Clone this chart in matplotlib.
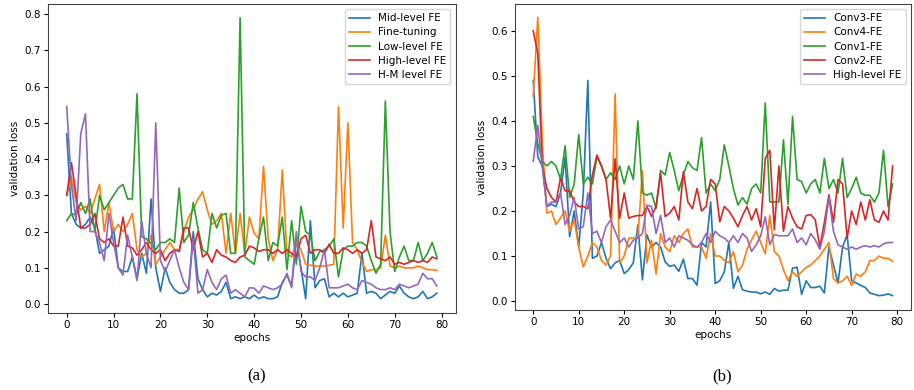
import matplotlib
matplotlib.use("Agg")
import matplotlib.pyplot as plt
import numpy as np

epochs = list(range(80))

# ---------- panel (a) ----------
a_labels = ["Mid-level FE", "Fine-tuning", "Low-level FE", "High-level FE", "H-M level FE"]
a_mid = [0.47, 0.25, 0.22, 0.21, 0.22, 0.24, 0.21, 0.14, 0.15, 0.16,
         0.21, 0.10, 0.09, 0.09, 0.13, 0.07, 0.14, 0.085, 0.29, 0.10,
         0.035, 0.10, 0.06, 0.04, 0.03, 0.03, 0.04, 0.20, 0.07, 0.04,
         0.02, 0.03, 0.025, 0.035, 0.06, 0.015, 0.02, 0.015, 0.02, 0.015,
         0.025, 0.015, 0.02, 0.015, 0.015, 0.02, 0.06, 0.08, 0.05, 0.18,
         0.10, 0.015, 0.23, 0.045, 0.065, 0.07, 0.02, 0.03, 0.02, 0.03,
         0.02, 0.025, 0.03, 0.14, 0.03, 0.035, 0.03, 0.015, 0.025, 0.035,
         0.03, 0.05, 0.03, 0.02, 0.015, 0.02, 0.035, 0.015, 0.02, 0.03]
a_fine = [0.30, 0.35, 0.28, 0.26, 0.27, 0.25, 0.29, 0.33, 0.20, 0.28,
          0.20, 0.22, 0.20, 0.22, 0.25, 0.15, 0.13, 0.14, 0.19, 0.11,
          0.13, 0.15, 0.17, 0.15, 0.15, 0.20, 0.24, 0.26, 0.29, 0.31,
          0.26, 0.22, 0.23, 0.25, 0.14, 0.25, 0.14, 0.25, 0.14, 0.24,
          0.195, 0.18, 0.38, 0.18, 0.12, 0.15, 0.37, 0.14, 0.13, 0.17,
          0.15, 0.11, 0.107, 0.105, 0.105, 0.105, 0.107, 0.11, 0.545, 0.21,
          0.50, 0.17, 0.15, 0.115, 0.09, 0.095, 0.095, 0.10, 0.19, 0.105,
          0.10, 0.105, 0.10, 0.10, 0.10, 0.105, 0.10, 0.095, 0.095, 0.093]
a_low = [0.23, 0.25, 0.245, 0.28, 0.25, 0.29, 0.20, 0.30, 0.26, 0.28,
         0.30, 0.32, 0.33, 0.29, 0.29, 0.58, 0.186, 0.18, 0.167, 0.15,
         0.17, 0.17, 0.18, 0.17, 0.32, 0.17, 0.19, 0.28, 0.21, 0.15,
         0.14, 0.25, 0.21, 0.245, 0.25, 0.14, 0.14, 0.79, 0.13, 0.12,
         0.11, 0.18, 0.24, 0.12, 0.17, 0.16, 0.24, 0.095, 0.23, 0.11,
         0.27, 0.20, 0.19, 0.12, 0.145, 0.15, 0.16, 0.18, 0.075, 0.15,
         0.16, 0.16, 0.17, 0.17, 0.16, 0.12, 0.085, 0.11, 0.56, 0.20,
         0.09, 0.13, 0.16, 0.12, 0.12, 0.17, 0.12, 0.14, 0.17, 0.13]
a_high = [0.30, 0.39, 0.30, 0.21, 0.21, 0.22, 0.25, 0.18, 0.17, 0.18,
          0.16, 0.16, 0.24, 0.16, 0.155, 0.135, 0.15, 0.17, 0.15, 0.14,
          0.15, 0.12, 0.14, 0.15, 0.145, 0.21, 0.21, 0.15, 0.20, 0.13,
          0.14, 0.115, 0.15, 0.135, 0.13, 0.12, 0.115, 0.13, 0.135, 0.16,
          0.155, 0.145, 0.15, 0.15, 0.14, 0.15, 0.14, 0.15, 0.14, 0.13,
          0.18, 0.19, 0.14, 0.15, 0.15, 0.14, 0.165, 0.14, 0.14, 0.155,
          0.15, 0.14, 0.15, 0.14, 0.15, 0.23, 0.13, 0.125, 0.12, 0.13,
          0.11, 0.115, 0.11, 0.115, 0.12, 0.115, 0.12, 0.115, 0.13, 0.125]
a_hm = [0.545, 0.33, 0.23, 0.47, 0.525, 0.20, 0.20, 0.17, 0.12, 0.25,
        0.17, 0.10, 0.08, 0.19, 0.13, 0.065, 0.23, 0.14, 0.10, 0.50,
        0.12, 0.09, 0.12, 0.15, 0.10, 0.06, 0.04, 0.18, 0.03, 0.04,
        0.095, 0.06, 0.04, 0.07, 0.08, 0.03, 0.04, 0.03, 0.02, 0.045,
        0.044, 0.03, 0.05, 0.045, 0.04, 0.045, 0.055, 0.085, 0.045, 0.20,
        0.09, 0.075, 0.075, 0.065, 0.10, 0.15, 0.045, 0.045, 0.045, 0.05,
        0.055, 0.045, 0.04, 0.065, 0.06, 0.055, 0.045, 0.04, 0.04, 0.045,
        0.04, 0.055, 0.05, 0.045, 0.05, 0.055, 0.085, 0.07, 0.07, 0.05]

# ---------- panel (b) ----------
b_labels = ["Conv3-FE", "Conv4-FE", "Conv1-FE", "Conv2-FE", "High-level FE"]
b_conv3 = [0.49, 0.32, 0.30, 0.21, 0.215, 0.21, 0.24, 0.32, 0.143, 0.20,
           0.12, 0.24, 0.49, 0.095, 0.10, 0.13, 0.095, 0.072, 0.085, 0.09,
           0.061, 0.07, 0.085, 0.169, 0.047, 0.147, 0.12, 0.13, 0.12, 0.087,
           0.077, 0.08, 0.066, 0.093, 0.05, 0.05, 0.035, 0.13, 0.12, 0.22,
           0.039, 0.045, 0.065, 0.13, 0.028, 0.055, 0.025, 0.022, 0.02, 0.02,
           0.016, 0.02, 0.015, 0.028, 0.022, 0.024, 0.024, 0.073, 0.075, 0.015,
           0.045, 0.03, 0.03, 0.033, 0.018, 0.12, 0.08, 0.04, 0.12, 0.147,
           0.045, 0.04, 0.035, 0.03, 0.018, 0.015, 0.012, 0.013, 0.016, 0.012]
b_conv4 = [0.455, 0.63, 0.35, 0.195, 0.20, 0.17, 0.185, 0.20, 0.155, 0.18,
           0.12, 0.076, 0.10, 0.13, 0.12, 0.09, 0.08, 0.10, 0.46, 0.085,
           0.10, 0.14, 0.14, 0.14, 0.29, 0.085, 0.135, 0.06, 0.15, 0.12,
           0.11, 0.145, 0.13, 0.15, 0.16, 0.12, 0.12, 0.12, 0.095, 0.15,
           0.10, 0.10, 0.09, 0.085, 0.11, 0.065, 0.08, 0.115, 0.136, 0.155,
           0.13, 0.105, 0.19, 0.11, 0.10, 0.07, 0.045, 0.065, 0.055, 0.065,
           0.075, 0.08, 0.09, 0.10, 0.115, 0.13, 0.05, 0.04, 0.045, 0.055,
           0.035, 0.06, 0.055, 0.065, 0.09, 0.09, 0.10, 0.095, 0.095, 0.088]
b_conv1 = [0.41, 0.35, 0.31, 0.30, 0.31, 0.30, 0.27, 0.345, 0.23, 0.26,
           0.37, 0.26, 0.275, 0.26, 0.32, 0.30, 0.27, 0.285, 0.27, 0.30,
           0.26, 0.30, 0.27, 0.40, 0.24, 0.235, 0.24, 0.206, 0.29, 0.28,
           0.33, 0.29, 0.245, 0.28, 0.31, 0.296, 0.29, 0.363, 0.24, 0.26,
           0.245, 0.27, 0.347, 0.30, 0.25, 0.213, 0.23, 0.215, 0.25, 0.26,
           0.24, 0.44, 0.22, 0.22, 0.22, 0.358, 0.215, 0.41, 0.27, 0.265,
           0.24, 0.26, 0.27, 0.24, 0.317, 0.25, 0.27, 0.24, 0.317, 0.23,
           0.25, 0.275, 0.24, 0.235, 0.235, 0.22, 0.24, 0.335, 0.21, 0.26]
b_conv2 = [0.60, 0.55, 0.30, 0.25, 0.23, 0.22, 0.273, 0.245, 0.245, 0.22,
           0.21, 0.21, 0.205, 0.28, 0.324, 0.30, 0.27, 0.184, 0.316, 0.184,
           0.24, 0.184, 0.188, 0.19, 0.19, 0.21, 0.188, 0.21, 0.284, 0.188,
           0.195, 0.21, 0.18, 0.287, 0.22, 0.205, 0.25, 0.20, 0.21, 0.27,
           0.26, 0.176, 0.21, 0.20, 0.184, 0.165, 0.19, 0.21, 0.18, 0.205,
           0.165, 0.317, 0.335, 0.158, 0.30, 0.155, 0.21, 0.184, 0.165, 0.16,
           0.19, 0.192, 0.18, 0.12, 0.175, 0.236, 0.175, 0.27, 0.26, 0.14,
           0.20, 0.17, 0.22, 0.18, 0.225, 0.18, 0.175, 0.20, 0.18, 0.30]
b_high = [0.31, 0.39, 0.30, 0.21, 0.22, 0.22, 0.24, 0.17, 0.19, 0.23,
          0.16, 0.165, 0.24, 0.15, 0.155, 0.13, 0.165, 0.18, 0.155, 0.13,
          0.14, 0.12, 0.135, 0.14, 0.15, 0.213, 0.21, 0.15, 0.19, 0.13,
          0.14, 0.12, 0.145, 0.14, 0.135, 0.125, 0.12, 0.13, 0.15, 0.13,
          0.155, 0.145, 0.14, 0.13, 0.145, 0.13, 0.15, 0.14, 0.11, 0.125,
          0.145, 0.187, 0.125, 0.148, 0.145, 0.145, 0.145, 0.16, 0.13, 0.14,
          0.125, 0.15, 0.136, 0.115, 0.155, 0.23, 0.155, 0.125, 0.12, 0.115,
          0.12, 0.115, 0.12, 0.123, 0.12, 0.123, 0.12, 0.127, 0.13, 0.13]

a_series = [a_mid, a_fine, a_low, a_high, a_hm]
b_series = [b_conv3, b_conv4, b_conv1, b_conv2, b_high]
colors = ["#1f77b4", "#ff7f0e", "#2ca02c", "#d62728", "#9467bd"]

plt.rcParams["font.family"] = ["DejaVu Sans"]
plt.rcParams["font.size"] = 7.5

fig = plt.figure(figsize=(9.14, 3.9), dpi=100)
ax1 = fig.add_axes([0.0525, 0.197, 0.446, 0.793])
ax2 = fig.add_axes([0.5635, 0.205, 0.433, 0.785])

for ax, series, labels, yt in [(ax1, a_series, a_labels, np.arange(0, 0.81, 0.1)),
                               (ax2, b_series, b_labels, np.arange(0, 0.61, 0.1))]:
    for s, lab, c in zip(series, labels, colors):
        ax.plot(epochs, s, color=c, lw=1.2, label=lab)
    ax.set_xticks([0, 10, 20, 30, 40, 50, 60, 70, 80])
    ax.set_yticks(yt)
    ax.set_yticklabels([f"{v:.1f}" for v in yt])
    ax.set_xlim(-4, 83)
    ax.set_xlabel("epochs", fontsize=7.5, labelpad=2)
    ax.set_ylabel("validation loss", fontsize=7.5, labelpad=3)
    ax.tick_params(labelsize=7.5, length=3, pad=2)
    for sp in ax.spines.values():
        sp.set_color("#444444")
    leg = ax.legend(loc="upper right", fontsize=7.5, framealpha=0.8,
                    handlelength=2.0, borderaxespad=0.5, labelspacing=0.4)

ax1.set_ylim(-0.025, 0.828)
ax2.set_ylim(-0.02, 0.66)

fig.text(0.281, 0.035, "(a)", fontsize=12, family="Liberation Serif", ha="center", va="center")
fig.text(0.790, 0.035, "(b)", fontsize=12, family="Liberation Serif", ha="center", va="center")

fig.savefig("out.png", dpi=100)
